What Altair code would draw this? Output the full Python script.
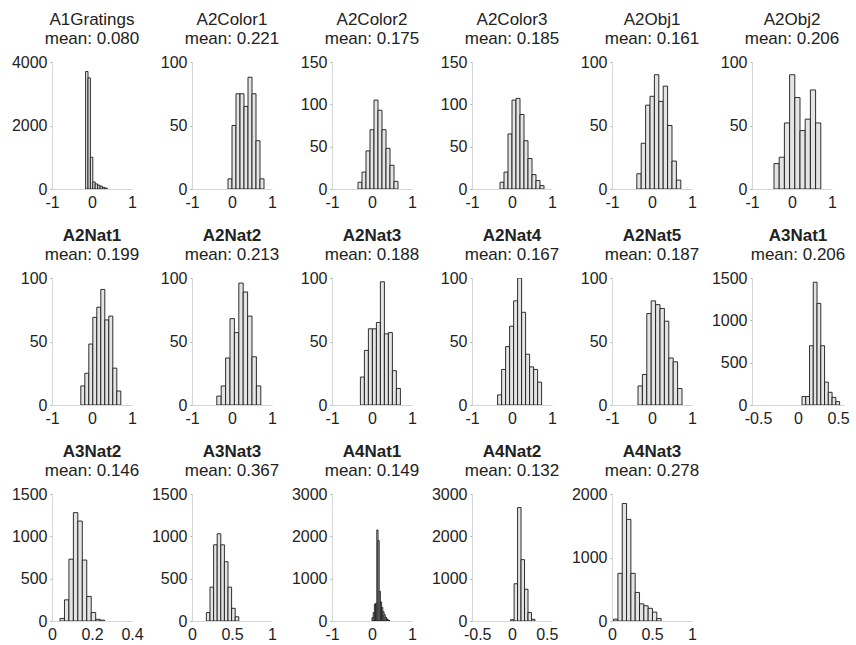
import altair as alt
import pandas as pd

NAMES = ["A1Gratings", "A2Color1", "A2Color2", "A2Color3", "A2Obj1", "A2Obj2",
         "A2Nat1", "A2Nat2", "A2Nat3", "A2Nat4", "A2Nat5", "A3Nat1",
         "A3Nat2", "A3Nat3", "A4Nat1", "A4Nat2", "A4Nat3"]
MEANS = [0.080, 0.221, 0.175, 0.185, 0.161, 0.206,
         0.199, 0.213, 0.188, 0.167, 0.187, 0.206,
         0.146, 0.367, 0.149, 0.132, 0.278]
BIN_START = [-0.16, -0.1, -0.35, -0.3, -0.38, -0.45,
             -0.28, -0.38, -0.29, -0.36, -0.35, 0.05,
             0.04, 0.18, 0.0, -0.02, 0.02]
BIN_WIDTH = [0.06, 0.1, 0.1, 0.1, 0.11, 0.13,
             0.1, 0.11, 0.1, 0.1, 0.11, 0.047,
             0.0223, 0.045, 0.03, 0.05, 0.054]
COUNTS = [
    [3700, 3500, 1000, 220, 160, 120, 90, 50, 30],
    [8, 50, 75, 75, 65, 88, 75, 38, 8],
    [8, 20, 45, 70, 105, 93, 70, 48, 28, 9],
    [8, 20, 65, 105, 107, 88, 57, 36, 17, 10, 4],
    [12, 36, 66, 73, 90, 69, 81, 50, 22, 7],
    [20, 25, 52, 90, 72, 46, 55, 78, 52],
    [15, 25, 48, 69, 77, 91, 67, 70, 29, 11],
    [7, 15, 37, 68, 57, 96, 89, 70, 38, 15],
    [22, 43, 60, 60, 65, 97, 56, 57, 27, 13],
    [8, 28, 46, 62, 82, 100, 73, 40, 30, 28, 18],
    [15, 24, 72, 82, 79, 76, 66, 37, 34, 13],
    [100, 100, 700, 1450, 1200, 700, 270, 150, 90, 40],
    [30, 250, 730, 1280, 1180, 720, 290, 100, 20, 10],
    [100, 400, 900, 1030, 900, 700, 400, 150, 50],
    [80, 200, 400, 420, 2150, 1900, 700, 450, 320, 220, 150, 90, 50, 25, 10],
    [30, 880, 2680, 1450, 750, 200, 40],
    [30, 750, 1850, 1600, 750, 450, 270, 240, 200, 140, 40],
]
X_DOMAIN = [[-1, 1]] * 11 + [[-0.575, 0.575], [0, 0.4], [0, 1], [-1, 1],
                             [-0.575, 0.575], [0, 1]]
X_TICKS = [[-1, 0, 1]] * 11 + [[-0.5, 0, 0.5], [0, 0.2, 0.4], [0, 0.5, 1],
                               [-1, 0, 1], [-0.5, 0, 0.5], [0, 0.5, 1]]
Y_MAX = [4000, 100, 150, 150, 100, 100,
         100, 100, 100, 100, 100, 1500,
         1500, 1500, 3000, 3000, 2000]
Y_TICKS = [[0, 2000, 4000], [0, 50, 100], [0, 50, 100, 150], [0, 50, 100, 150],
           [0, 50, 100], [0, 50, 100],
           [0, 50, 100], [0, 50, 100], [0, 50, 100], [0, 50, 100], [0, 50, 100],
           [0, 500, 1000, 1500],
           [0, 500, 1000, 1500], [0, 500, 1000, 1500], [0, 1000, 2000, 3000],
           [0, 1000, 2000, 3000], [0, 1000, 2000]]

FONT = "Liberation Sans"
TXT = "#222222"
H = 127


def panel(i):
    name = NAMES[i]
    rows = []
    for k, c in enumerate(COUNTS[i]):
        x0 = BIN_START[i] + k * BIN_WIDTH[i]
        rows.append({"x0": x0, "x1": x0 + BIN_WIDTH[i], "count": c, "base": 0})
    df = pd.DataFrame(rows)
    width = 92 if name == "A3Nat1" else 80
    xaxis = alt.Axis(values=X_TICKS[i], labelExpr="'' + datum.value", title=None,
                     grid=False, ticks=False, domainColor="#d6d6d6", domainWidth=1,
                     labelFont=FONT, labelFontSize=16, labelColor=TXT, labelPadding=5,
                     labelFlush=False, labelOverlap=False)
    yaxis = alt.Axis(values=Y_TICKS[i], labelExpr="'' + datum.value", title=None,
                     grid=False, ticks=True, tickSize=2, tickColor="#aaaaaa",
                     domainColor="#d6d6d6", domainWidth=1,
                     labelFont=FONT, labelFontSize=16, labelColor=TXT, labelPadding=3,
                     labelFlush=False, labelOverlap=False)
    return alt.Chart(df).mark_rect(
        fill="#e4e4e4", stroke="#1a1a1a", strokeWidth=0.9, clip=True
    ).encode(
        x=alt.X("x0:Q", scale=alt.Scale(domain=X_DOMAIN[i], nice=False, zero=False), axis=xaxis),
        x2="x1:Q",
        y=alt.Y("count:Q", scale=alt.Scale(domain=[0, Y_MAX[i]], nice=False), axis=yaxis),
        y2="base:Q",
    ).properties(
        width=width, height=H,
        title=alt.TitleParams(
            text=name, subtitle=f"mean: {MEANS[i]:.3f}",
            font=FONT, fontSize=17, fontWeight="bold" if i >= 6 else "normal", color=TXT,
            subtitleFont=FONT, subtitleFontSize=17, subtitleColor=TXT, subtitlePadding=2,
            offset=6, frame="group", anchor="middle",
        ),
    )


chart = alt.concat(
    *[panel(i) for i in range(len(NAMES))], columns=6,
    spacing={"row": 89, "column": 60}, bounds="flush"
).configure_view(stroke=None).properties(
    padding={"left": 11, "top": 11, "right": 0, "bottom": 0}, background="white"
)

chart.save("out.html", embed_options={"renderer": "svg", "actions": False})
